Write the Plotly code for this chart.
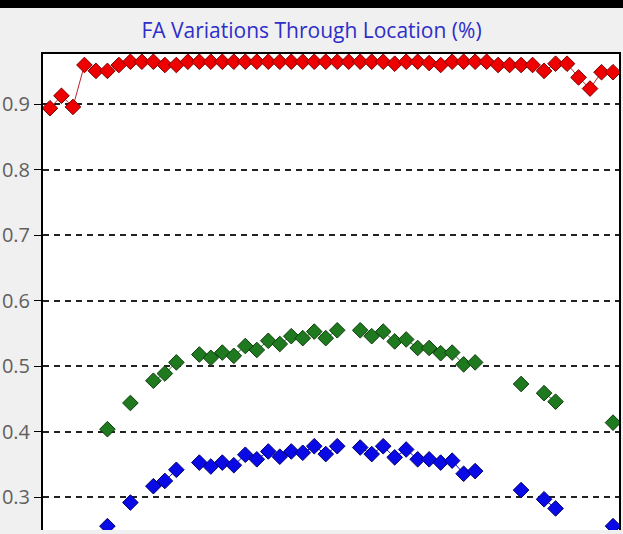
import plotly.graph_objects as go

locations = list(range(1, 51))

red_values = [0.894, 0.913, 0.896, 0.960, 0.951, 0.951, 0.960, 0.965, 0.965, 0.965,
              0.960, 0.960, 0.965, 0.965, 0.965, 0.965, 0.965, 0.965, 0.965, 0.965,
              0.965, 0.965, 0.965, 0.965, 0.965, 0.965, 0.965, 0.965, 0.965, 0.965,
              0.962, 0.965, 0.965, 0.963, 0.960, 0.965, 0.965, 0.965, 0.965, 0.960,
              0.960, 0.960, 0.960, 0.951, 0.962, 0.962, 0.941, 0.924, 0.949, 0.949]

green_values = [None, None, None, None, None, 0.404, None, 0.444, None, 0.478,
                0.489, 0.506, None, 0.518, 0.513, 0.521, 0.516, 0.531, 0.525, 0.539,
                0.534, 0.546, 0.543, 0.553, 0.543, 0.555, None, 0.555, 0.546, 0.553,
                0.538, 0.541, 0.528, 0.528, 0.520, 0.521, 0.503, 0.506, None, None,
                None, 0.473, None, 0.459, 0.446, None, None, None, None, 0.414]

blue_values = [None, None, None, None, None, 0.256, None, 0.292, None, 0.317,
               0.325, 0.342, None, 0.353, 0.347, 0.353, 0.349, 0.365, 0.358, 0.370,
               0.362, 0.370, 0.368, 0.378, 0.366, 0.378, None, 0.376, 0.366, 0.378,
               0.361, 0.373, 0.358, 0.358, 0.353, 0.356, 0.336, 0.340, None, None,
               None, 0.311, None, 0.297, 0.283, None, None, None, None, 0.256]

y_ticks = [0.3, 0.4, 0.5, 0.6, 0.7, 0.8, 0.9]
y_tick_labels = ["0.3", "0.4", "0.5", "0.6", "0.7", "0.8", "0.9"]

series = [
    ("Series 1", red_values, "#ee0000", "#7a0000", "#c0202a"),
    ("Series 2", green_values, "#1f7a1f", "#0d3d0d", "#1f7a1f"),
    ("Series 3", blue_values, "#0a0ae6", "#00006e", "#0a0ae6"),
]

fig = go.Figure()
for name, vals, fill, edge, linec in series:
    fig.add_trace(go.Scatter(
        x=locations, y=vals, name=name, mode="lines+markers",
        connectgaps=False,
        line=dict(color=linec, width=1),
        marker=dict(symbol="diamond", size=12, color=fill,
                    line=dict(color=edge, width=1)),
    ))

fig.update_layout(
    width=623, height=534,
    margin=dict(l=41, r=2, t=54, b=4),
    paper_bgcolor="#f0f0f0",
    plot_bgcolor="#ffffff",
    showlegend=False,
    title=dict(text="FA Variations Through Location (%)",
               x=0.5, xref="container", xanchor="center",
               y=1 - 31 / 534, yref="container", yanchor="middle",
               font=dict(family="Open Sans, Noto Sans, sans-serif", size=21, color="#2e2ec8")),
    xaxis=dict(range=[0.395, 50.52], side="top", showgrid=False, zeroline=False,
               showticklabels=False, ticks="", showline=True, linecolor="#000000", linewidth=1.5),
    yaxis=dict(range=[0.2501, 0.9768], tickvals=y_ticks, ticktext=y_tick_labels,
               ticks="outside", ticklen=7, tickcolor="#000000", tickwidth=1,
               tickfont=dict(family="Open Sans, Noto Sans, sans-serif", size=20, color="#606060"),
               showgrid=True, gridcolor="#222222", gridwidth=1.6, griddash="6px,5px",
               zeroline=False, showline=True, mirror=True, linecolor="#000000", linewidth=2),
    shapes=[dict(type="rect", xref="paper", yref="paper", x0=-0.1, x1=1.1,
                 y0=1 + (54 - 8) / 476, y1=1 + 54 / 476 + 0.01,
                 fillcolor="#000000", line=dict(width=0), layer="above")],
)

fig.write_html(
    "out.html",
    config={"displayModeBar": False},
    post_script="document.body.style.margin='0';document.body.style.overflow='hidden';",
)
